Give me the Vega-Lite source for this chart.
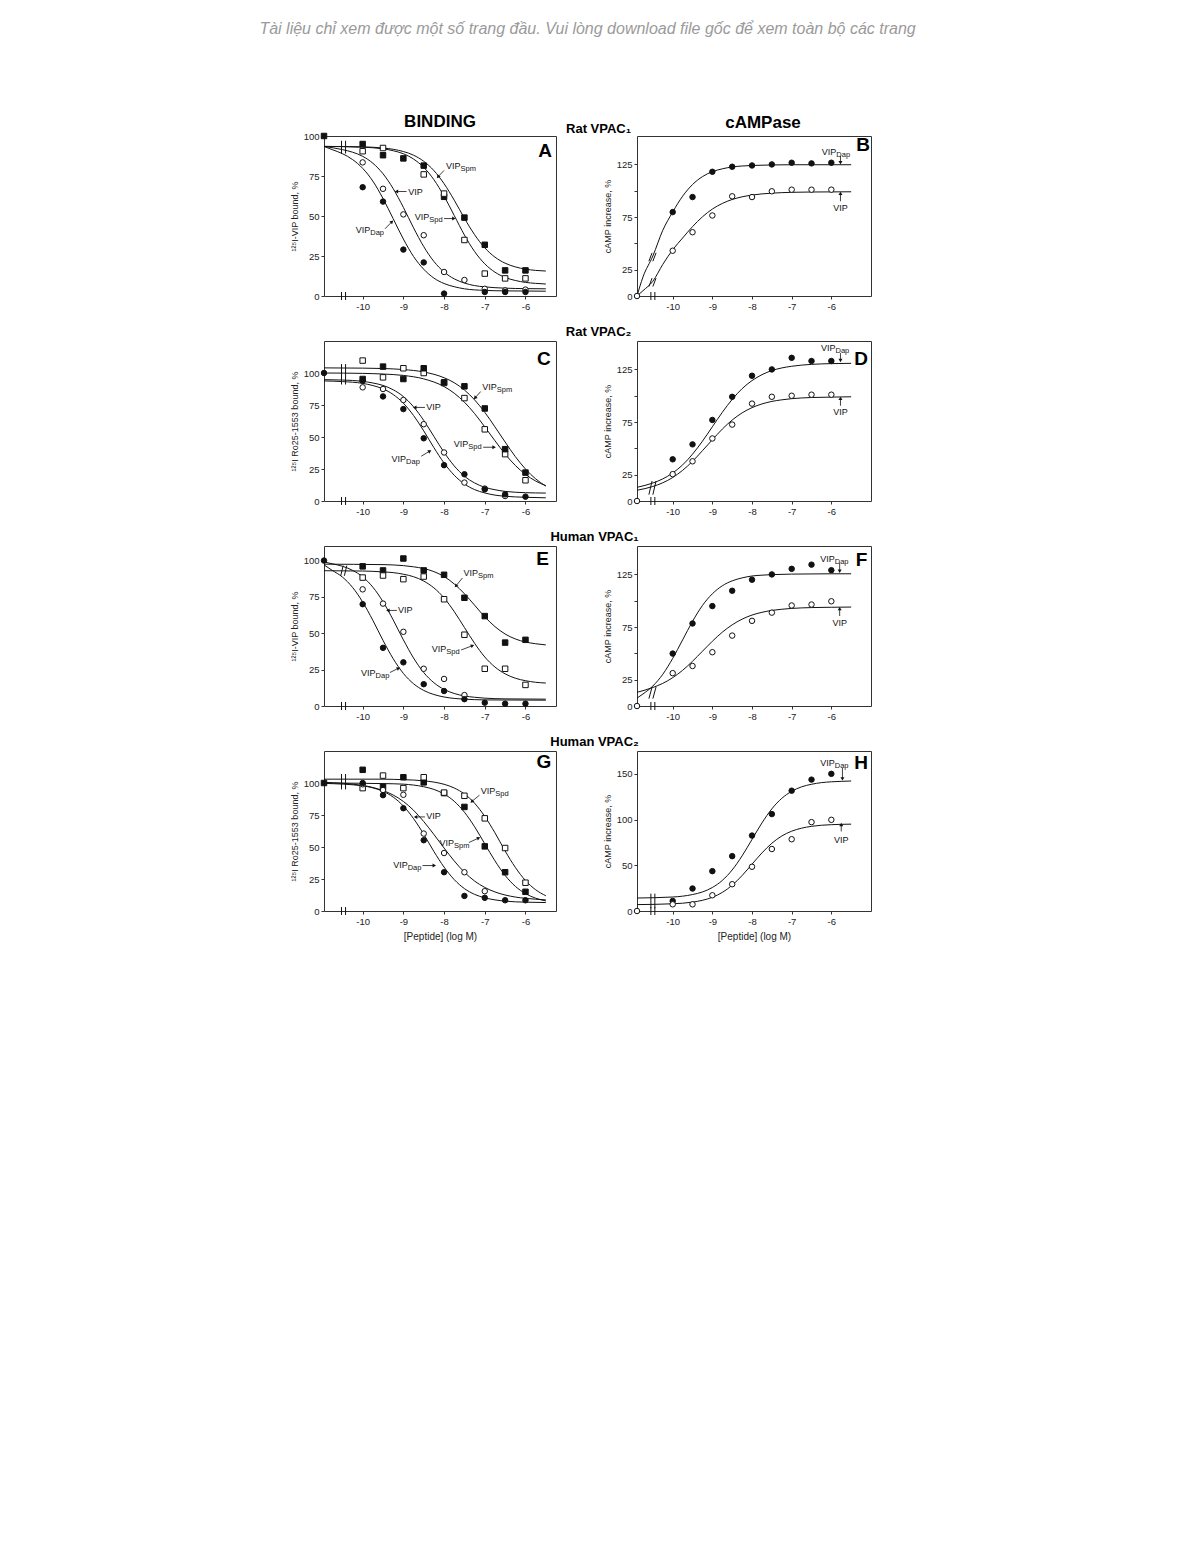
{
"$schema": "https://vega.github.io/schema/vega-lite/v6.json",
"background": "white",
"padding": {"left": 259, "top": 20, "right": 5, "bottom": 5},
"title": {"text": "Tài liệu chỉ xem được một số trang đầu. Vui lòng download file gốc để xem toàn bộ các trang", "font": "Liberation Sans", "fontSize": 16, "fontStyle": "italic", "fontWeight": "normal", "color": "#9a9a9a", "anchor": "middle", "dx": 7, "offset": 76},
"spacing": 14,
"datasets": {
"curves": [
{"p":"A","s":"Spm","x":-10.95,"y":93.5},{"p":"A","s":"Spm","x":-10,"y":93.2},{"p":"A","s":"Spm","x":-9.5,"y":92.5},{"p":"A","s":"Spm","x":-9.25,"y":91.7},{"p":"A","s":"Spm","x":-9,"y":90.3},{"p":"A","s":"Spm","x":-8.75,"y":88},{"p":"A","s":"Spm","x":-8.5,"y":84.2},{"p":"A","s":"Spm","x":-8.25,"y":78.4},{"p":"A","s":"Spm","x":-8,"y":70.2},{"p":"A","s":"Spm","x":-7.75,"y":59.9},{"p":"A","s":"Spm","x":-7.5,"y":48.6},{"p":"A","s":"Spm","x":-7.25,"y":38.3},{"p":"A","s":"Spm","x":-7,"y":30.1},{"p":"A","s":"Spm","x":-6.75,"y":24.3},{"p":"A","s":"Spm","x":-6.5,"y":20.5},{"p":"A","s":"Spm","x":-6.25,"y":18.2},{"p":"A","s":"Spm","x":-6,"y":16.8},{"p":"A","s":"Spm","x":-5.75,"y":16},{"p":"A","s":"Spm","x":-5.5,"y":15.6},
{"p":"A","s":"Spd","x":-10.95,"y":93.5},{"p":"A","s":"Spd","x":-10,"y":93},{"p":"A","s":"Spd","x":-9.5,"y":92},{"p":"A","s":"Spd","x":-9.25,"y":90.8},{"p":"A","s":"Spd","x":-9,"y":88.9},{"p":"A","s":"Spd","x":-8.75,"y":85.6},{"p":"A","s":"Spd","x":-8.5,"y":80.4},{"p":"A","s":"Spd","x":-8.25,"y":72.7},{"p":"A","s":"Spd","x":-8,"y":62.4},{"p":"A","s":"Spd","x":-7.75,"y":50.3},{"p":"A","s":"Spd","x":-7.5,"y":38.1},{"p":"A","s":"Spd","x":-7.25,"y":27.8},{"p":"A","s":"Spd","x":-7,"y":20.1},{"p":"A","s":"Spd","x":-6.75,"y":14.9},{"p":"A","s":"Spd","x":-6.5,"y":11.6},{"p":"A","s":"Spd","x":-6.25,"y":9.7},{"p":"A","s":"Spd","x":-6,"y":8.5},{"p":"A","s":"Spd","x":-5.75,"y":7.9},{"p":"A","s":"Spd","x":-5.5,"y":7.5},
{"p":"A","s":"VIP","x":-10.95,"y":93.5},{"p":"A","s":"VIP","x":-10.5,"y":91.5},{"p":"A","s":"VIP","x":-10.25,"y":89.9},{"p":"A","s":"VIP","x":-10,"y":87.3},{"p":"A","s":"VIP","x":-9.75,"y":83},{"p":"A","s":"VIP","x":-9.5,"y":76.4},{"p":"A","s":"VIP","x":-9.25,"y":67.1},{"p":"A","s":"VIP","x":-9,"y":55.4},{"p":"A","s":"VIP","x":-8.75,"y":42.6},{"p":"A","s":"VIP","x":-8.5,"y":30.9},{"p":"A","s":"VIP","x":-8.25,"y":21.6},{"p":"A","s":"VIP","x":-8,"y":15},{"p":"A","s":"VIP","x":-7.75,"y":10.7},{"p":"A","s":"VIP","x":-7.5,"y":8.1},{"p":"A","s":"VIP","x":-7.25,"y":6.5},{"p":"A","s":"VIP","x":-7,"y":5.7},{"p":"A","s":"VIP","x":-6.5,"y":4.9},{"p":"A","s":"VIP","x":-6,"y":4.6},{"p":"A","s":"VIP","x":-5.5,"y":4.5},
{"p":"A","s":"Dap","x":-10.95,"y":93.5},{"p":"A","s":"Dap","x":-10.75,"y":91.5},{"p":"A","s":"Dap","x":-10.5,"y":89},{"p":"A","s":"Dap","x":-10.25,"y":85.3},{"p":"A","s":"Dap","x":-10,"y":79.8},{"p":"A","s":"Dap","x":-9.75,"y":71.8},{"p":"A","s":"Dap","x":-9.5,"y":60.9},{"p":"A","s":"Dap","x":-9.25,"y":48.3},{"p":"A","s":"Dap","x":-9,"y":35.6},{"p":"A","s":"Dap","x":-8.75,"y":24.7},{"p":"A","s":"Dap","x":-8.5,"y":16.7},{"p":"A","s":"Dap","x":-8.25,"y":11.2},{"p":"A","s":"Dap","x":-8,"y":7.8},{"p":"A","s":"Dap","x":-7.75,"y":5.8},{"p":"A","s":"Dap","x":-7.5,"y":4.5},{"p":"A","s":"Dap","x":-7,"y":3.5},{"p":"A","s":"Dap","x":-6.5,"y":3.2},{"p":"A","s":"Dap","x":-5.5,"y":3},
{"p":"B","s":"Dap","x":-10.9,"y":0},{"p":"B","s":"Dap","x":-10.75,"y":18},{"p":"B","s":"Dap","x":-10.5,"y":38},{"p":"B","s":"Dap","x":-10.25,"y":62.4},{"p":"B","s":"Dap","x":-10,"y":79.8},{"p":"B","s":"Dap","x":-9.75,"y":94.8},{"p":"B","s":"Dap","x":-9.5,"y":105.9},{"p":"B","s":"Dap","x":-9.25,"y":113.4},{"p":"B","s":"Dap","x":-9,"y":118.1},{"p":"B","s":"Dap","x":-8.75,"y":120.8},{"p":"B","s":"Dap","x":-8.5,"y":122.6},{"p":"B","s":"Dap","x":-8.25,"y":123.5},{"p":"B","s":"Dap","x":-8,"y":124},{"p":"B","s":"Dap","x":-7.5,"y":124.5},{"p":"B","s":"Dap","x":-7,"y":124.7},{"p":"B","s":"Dap","x":-5.5,"y":124.7},
{"p":"B","s":"VIP","x":-10.9,"y":0},{"p":"B","s":"VIP","x":-10.75,"y":5},{"p":"B","s":"VIP","x":-10.5,"y":14},{"p":"B","s":"VIP","x":-10.25,"y":30},{"p":"B","s":"VIP","x":-10,"y":43.9},{"p":"B","s":"VIP","x":-9.75,"y":55.1},{"p":"B","s":"VIP","x":-9.5,"y":65.9},{"p":"B","s":"VIP","x":-9.25,"y":75.2},{"p":"B","s":"VIP","x":-9,"y":82.6},{"p":"B","s":"VIP","x":-8.75,"y":87.9},{"p":"B","s":"VIP","x":-8.5,"y":91.7},{"p":"B","s":"VIP","x":-8.25,"y":94.2},{"p":"B","s":"VIP","x":-8,"y":95.9},{"p":"B","s":"VIP","x":-7.75,"y":97},{"p":"B","s":"VIP","x":-7.5,"y":97.7},{"p":"B","s":"VIP","x":-7,"y":98.5},{"p":"B","s":"VIP","x":-6.5,"y":98.8},{"p":"B","s":"VIP","x":-6,"y":98.9},{"p":"B","s":"VIP","x":-5.5,"y":99},
{"p":"C","s":"Spm","x":-10.95,"y":104},{"p":"C","s":"Spm","x":-10,"y":103.8},{"p":"C","s":"Spm","x":-9.5,"y":103.5},{"p":"C","s":"Spm","x":-9,"y":102.7},{"p":"C","s":"Spm","x":-8.5,"y":100.8},{"p":"C","s":"Spm","x":-8,"y":96.3},{"p":"C","s":"Spm","x":-7.75,"y":92.4},{"p":"C","s":"Spm","x":-7.5,"y":86.7},{"p":"C","s":"Spm","x":-7.25,"y":79},{"p":"C","s":"Spm","x":-7,"y":69.3},{"p":"C","s":"Spm","x":-6.75,"y":57.9},{"p":"C","s":"Spm","x":-6.5,"y":46.1},{"p":"C","s":"Spm","x":-6.25,"y":34.7},{"p":"C","s":"Spm","x":-6,"y":25},{"p":"C","s":"Spm","x":-5.75,"y":17.3},{"p":"C","s":"Spm","x":-5.5,"y":11.6},
{"p":"C","s":"Spd","x":-10.95,"y":100},{"p":"C","s":"Spd","x":-10,"y":99.7},{"p":"C","s":"Spd","x":-9.5,"y":99.2},{"p":"C","s":"Spd","x":-9,"y":98.1},{"p":"C","s":"Spd","x":-8.5,"y":95.4},{"p":"C","s":"Spd","x":-8,"y":89.4},{"p":"C","s":"Spd","x":-7.75,"y":84.2},{"p":"C","s":"Spd","x":-7.5,"y":77.2},{"p":"C","s":"Spd","x":-7.25,"y":68.3},{"p":"C","s":"Spd","x":-7,"y":57.9},{"p":"C","s":"Spd","x":-6.75,"y":47.1},{"p":"C","s":"Spd","x":-6.5,"y":36.7},{"p":"C","s":"Spd","x":-6.25,"y":27.8},{"p":"C","s":"Spd","x":-6,"y":20.8},{"p":"C","s":"Spd","x":-5.75,"y":15.6},{"p":"C","s":"Spd","x":-5.5,"y":12},
{"p":"C","s":"VIP","x":-10.95,"y":94.8},{"p":"C","s":"VIP","x":-10.5,"y":94.5},{"p":"C","s":"VIP","x":-10,"y":93.5},{"p":"C","s":"VIP","x":-9.75,"y":92.2},{"p":"C","s":"VIP","x":-9.5,"y":90.3},{"p":"C","s":"VIP","x":-9.25,"y":86.9},{"p":"C","s":"VIP","x":-9,"y":81.6},{"p":"C","s":"VIP","x":-8.75,"y":73.6},{"p":"C","s":"VIP","x":-8.5,"y":63},{"p":"C","s":"VIP","x":-8.25,"y":50.5},{"p":"C","s":"VIP","x":-8,"y":38},{"p":"C","s":"VIP","x":-7.75,"y":27.4},{"p":"C","s":"VIP","x":-7.5,"y":19.4},{"p":"C","s":"VIP","x":-7.25,"y":14.1},{"p":"C","s":"VIP","x":-7,"y":10.7},{"p":"C","s":"VIP","x":-6.75,"y":8.8},{"p":"C","s":"VIP","x":-6.5,"y":7.5},{"p":"C","s":"VIP","x":-6,"y":6.5},{"p":"C","s":"VIP","x":-5.5,"y":6.2},
{"p":"C","s":"Dap","x":-10.95,"y":93.8},{"p":"C","s":"Dap","x":-10.5,"y":93.3},{"p":"C","s":"Dap","x":-10,"y":91.9},{"p":"C","s":"Dap","x":-9.75,"y":90.2},{"p":"C","s":"Dap","x":-9.5,"y":87.6},{"p":"C","s":"Dap","x":-9.25,"y":83.2},{"p":"C","s":"Dap","x":-9,"y":76.4},{"p":"C","s":"Dap","x":-8.75,"y":66.8},{"p":"C","s":"Dap","x":-8.5,"y":54.8},{"p":"C","s":"Dap","x":-8.25,"y":41.7},{"p":"C","s":"Dap","x":-8,"y":29.7},{"p":"C","s":"Dap","x":-7.75,"y":20.1},{"p":"C","s":"Dap","x":-7.5,"y":13.3},{"p":"C","s":"Dap","x":-7.25,"y":8.9},{"p":"C","s":"Dap","x":-7,"y":6.3},{"p":"C","s":"Dap","x":-6.75,"y":4.6},{"p":"C","s":"Dap","x":-6.5,"y":3.7},{"p":"C","s":"Dap","x":-6,"y":2.9},{"p":"C","s":"Dap","x":-5.5,"y":2.5},
{"p":"D","s":"Dap","x":-10.9,"y":13},{"p":"D","s":"Dap","x":-10.5,"y":17.1},{"p":"D","s":"Dap","x":-10.25,"y":21},{"p":"D","s":"Dap","x":-10,"y":26.6},{"p":"D","s":"Dap","x":-9.75,"y":34.3},{"p":"D","s":"Dap","x":-9.5,"y":44.5},{"p":"D","s":"Dap","x":-9.25,"y":56.8},{"p":"D","s":"Dap","x":-9,"y":70.5},{"p":"D","s":"Dap","x":-8.75,"y":84.2},{"p":"D","s":"Dap","x":-8.5,"y":96.5},{"p":"D","s":"Dap","x":-8.25,"y":106.7},{"p":"D","s":"Dap","x":-8,"y":114.4},{"p":"D","s":"Dap","x":-7.75,"y":120},{"p":"D","s":"Dap","x":-7.5,"y":123.9},{"p":"D","s":"Dap","x":-7.25,"y":126.4},{"p":"D","s":"Dap","x":-7,"y":128},{"p":"D","s":"Dap","x":-6.5,"y":129.8},{"p":"D","s":"Dap","x":-6,"y":130.5},{"p":"D","s":"Dap","x":-5.5,"y":130.8},
{"p":"D","s":"VIP","x":-10.9,"y":10.2},{"p":"D","s":"VIP","x":-10.5,"y":13.8},{"p":"D","s":"VIP","x":-10.25,"y":17.3},{"p":"D","s":"VIP","x":-10,"y":22.3},{"p":"D","s":"VIP","x":-9.75,"y":29.1},{"p":"D","s":"VIP","x":-9.5,"y":37.7},{"p":"D","s":"VIP","x":-9.25,"y":47.8},{"p":"D","s":"VIP","x":-9,"y":58.2},{"p":"D","s":"VIP","x":-8.75,"y":68.3},{"p":"D","s":"VIP","x":-8.5,"y":76.9},{"p":"D","s":"VIP","x":-8.25,"y":83.7},{"p":"D","s":"VIP","x":-8,"y":88.7},{"p":"D","s":"VIP","x":-7.75,"y":92.2},{"p":"D","s":"VIP","x":-7.5,"y":94.6},{"p":"D","s":"VIP","x":-7.25,"y":96.1},{"p":"D","s":"VIP","x":-7,"y":97.2},{"p":"D","s":"VIP","x":-6.5,"y":98.3},{"p":"D","s":"VIP","x":-6,"y":98.7},{"p":"D","s":"VIP","x":-5.5,"y":99},
{"p":"E","s":"Spm","x":-10.95,"y":97.5},{"p":"E","s":"Spm","x":-9.5,"y":97.2},{"p":"E","s":"Spm","x":-9,"y":96.5},{"p":"E","s":"Spm","x":-8.75,"y":95.7},{"p":"E","s":"Spm","x":-8.5,"y":94.5},{"p":"E","s":"Spm","x":-8.25,"y":92.4},{"p":"E","s":"Spm","x":-8,"y":89},{"p":"E","s":"Spm","x":-7.75,"y":83.9},{"p":"E","s":"Spm","x":-7.5,"y":77.2},{"p":"E","s":"Spm","x":-7.25,"y":69.3},{"p":"E","s":"Spm","x":-7,"y":61.3},{"p":"E","s":"Spm","x":-6.75,"y":54.6},{"p":"E","s":"Spm","x":-6.5,"y":49.5},{"p":"E","s":"Spm","x":-6.25,"y":46.1},{"p":"E","s":"Spm","x":-6,"y":44},{"p":"E","s":"Spm","x":-5.75,"y":42.8},{"p":"E","s":"Spm","x":-5.5,"y":42},
{"p":"E","s":"Spd","x":-10.95,"y":93},{"p":"E","s":"Spd","x":-10,"y":92.8},{"p":"E","s":"Spd","x":-9.5,"y":92.2},{"p":"E","s":"Spd","x":-9.25,"y":91.7},{"p":"E","s":"Spd","x":-9,"y":90.6},{"p":"E","s":"Spd","x":-8.75,"y":88.9},{"p":"E","s":"Spd","x":-8.5,"y":85.9},{"p":"E","s":"Spd","x":-8.25,"y":81.2},{"p":"E","s":"Spd","x":-8,"y":74.3},{"p":"E","s":"Spd","x":-7.75,"y":64.9},{"p":"E","s":"Spd","x":-7.5,"y":54},{"p":"E","s":"Spd","x":-7.25,"y":43.1},{"p":"E","s":"Spd","x":-7,"y":33.7},{"p":"E","s":"Spd","x":-6.75,"y":26.8},{"p":"E","s":"Spd","x":-6.5,"y":22.1},{"p":"E","s":"Spd","x":-6.25,"y":19.1},{"p":"E","s":"Spd","x":-6,"y":17.4},{"p":"E","s":"Spd","x":-5.75,"y":16.3},{"p":"E","s":"Spd","x":-5.5,"y":15.8},
{"p":"E","s":"VIP","x":-10.95,"y":99},{"p":"E","s":"VIP","x":-10.75,"y":97.8},{"p":"E","s":"VIP","x":-10.5,"y":96.1},{"p":"E","s":"VIP","x":-10.25,"y":93.3},{"p":"E","s":"VIP","x":-10,"y":88.8},{"p":"E","s":"VIP","x":-9.75,"y":81.7},{"p":"E","s":"VIP","x":-9.5,"y":71.7},{"p":"E","s":"VIP","x":-9.25,"y":59.2},{"p":"E","s":"VIP","x":-9,"y":45.5},{"p":"E","s":"VIP","x":-8.75,"y":33},{"p":"E","s":"VIP","x":-8.5,"y":23},{"p":"E","s":"VIP","x":-8.25,"y":16},{"p":"E","s":"VIP","x":-8,"y":11.4},{"p":"E","s":"VIP","x":-7.75,"y":8.6},{"p":"E","s":"VIP","x":-7.5,"y":6.9},{"p":"E","s":"VIP","x":-7.25,"y":6},{"p":"E","s":"VIP","x":-7,"y":5.4},{"p":"E","s":"VIP","x":-6.5,"y":4.9},{"p":"E","s":"VIP","x":-5.5,"y":4.7},
{"p":"E","s":"Dap","x":-10.95,"y":97},{"p":"E","s":"Dap","x":-10.75,"y":93.3},{"p":"E","s":"Dap","x":-10.5,"y":88.7},{"p":"E","s":"Dap","x":-10.25,"y":81.6},{"p":"E","s":"Dap","x":-10,"y":71.5},{"p":"E","s":"Dap","x":-9.75,"y":58.9},{"p":"E","s":"Dap","x":-9.5,"y":45.1},{"p":"E","s":"Dap","x":-9.25,"y":32.5},{"p":"E","s":"Dap","x":-9,"y":22.4},{"p":"E","s":"Dap","x":-8.75,"y":15.3},{"p":"E","s":"Dap","x":-8.5,"y":10.7},{"p":"E","s":"Dap","x":-8.25,"y":7.9},{"p":"E","s":"Dap","x":-8,"y":6.2},{"p":"E","s":"Dap","x":-7.75,"y":5.2},{"p":"E","s":"Dap","x":-7.5,"y":4.7},{"p":"E","s":"Dap","x":-7,"y":4.2},{"p":"E","s":"Dap","x":-5.5,"y":4},
{"p":"F","s":"Dap","x":-10.9,"y":7.5},{"p":"F","s":"Dap","x":-10.75,"y":11.4},{"p":"F","s":"Dap","x":-10.5,"y":19},{"p":"F","s":"Dap","x":-10.25,"y":30.1},{"p":"F","s":"Dap","x":-10,"y":45.2},{"p":"F","s":"Dap","x":-9.75,"y":62.8},{"p":"F","s":"Dap","x":-9.5,"y":80.4},{"p":"F","s":"Dap","x":-9.25,"y":95.5},{"p":"F","s":"Dap","x":-9,"y":106.6},{"p":"F","s":"Dap","x":-8.75,"y":114.2},{"p":"F","s":"Dap","x":-8.5,"y":118.9},{"p":"F","s":"Dap","x":-8.25,"y":121.7},{"p":"F","s":"Dap","x":-8,"y":123.5},{"p":"F","s":"Dap","x":-7.75,"y":124.3},{"p":"F","s":"Dap","x":-7.5,"y":124.8},{"p":"F","s":"Dap","x":-7,"y":125.3},{"p":"F","s":"Dap","x":-6,"y":125.6},{"p":"F","s":"Dap","x":-5.5,"y":125.6},
{"p":"F","s":"VIP","x":-10.9,"y":13},{"p":"F","s":"VIP","x":-10.5,"y":17.6},{"p":"F","s":"VIP","x":-10.25,"y":21.5},{"p":"F","s":"VIP","x":-10,"y":26.9},{"p":"F","s":"VIP","x":-9.75,"y":33.9},{"p":"F","s":"VIP","x":-9.5,"y":42.5},{"p":"F","s":"VIP","x":-9.25,"y":52},{"p":"F","s":"VIP","x":-9,"y":61.5},{"p":"F","s":"VIP","x":-8.75,"y":70.1},{"p":"F","s":"VIP","x":-8.5,"y":77.1},{"p":"F","s":"VIP","x":-8.25,"y":82.5},{"p":"F","s":"VIP","x":-8,"y":86.4},{"p":"F","s":"VIP","x":-7.75,"y":89},{"p":"F","s":"VIP","x":-7.5,"y":90.8},{"p":"F","s":"VIP","x":-7.25,"y":91.9},{"p":"F","s":"VIP","x":-7,"y":92.7},{"p":"F","s":"VIP","x":-6.5,"y":93.5},{"p":"F","s":"VIP","x":-6,"y":93.8},{"p":"F","s":"VIP","x":-5.5,"y":94},
{"p":"G","s":"Spd","x":-10.95,"y":103},{"p":"G","s":"Spd","x":-9.5,"y":103},{"p":"G","s":"Spd","x":-9,"y":102.6},{"p":"G","s":"Spd","x":-8.75,"y":102.3},{"p":"G","s":"Spd","x":-8.5,"y":101.7},{"p":"G","s":"Spd","x":-8.25,"y":100.7},{"p":"G","s":"Spd","x":-8,"y":99},{"p":"G","s":"Spd","x":-7.75,"y":96.1},{"p":"G","s":"Spd","x":-7.5,"y":91.4},{"p":"G","s":"Spd","x":-7.25,"y":84.2},{"p":"G","s":"Spd","x":-7,"y":73.9},{"p":"G","s":"Spd","x":-6.75,"y":61.1},{"p":"G","s":"Spd","x":-6.5,"y":46.9},{"p":"G","s":"Spd","x":-6.25,"y":34.1},{"p":"G","s":"Spd","x":-6,"y":23.8},{"p":"G","s":"Spd","x":-5.75,"y":16.6},{"p":"G","s":"Spd","x":-5.5,"y":11.9},
{"p":"G","s":"Spm","x":-10.95,"y":100},{"p":"G","s":"Spm","x":-9.25,"y":99.4},{"p":"G","s":"Spm","x":-9,"y":99.1},{"p":"G","s":"Spm","x":-8.75,"y":98.4},{"p":"G","s":"Spm","x":-8.5,"y":97.1},{"p":"G","s":"Spm","x":-8.25,"y":95},{"p":"G","s":"Spm","x":-8,"y":91.4},{"p":"G","s":"Spm","x":-7.75,"y":85.7},{"p":"G","s":"Spm","x":-7.5,"y":77.2},{"p":"G","s":"Spm","x":-7.25,"y":65.8},{"p":"G","s":"Spm","x":-7,"y":52.5},{"p":"G","s":"Spm","x":-6.75,"y":39.2},{"p":"G","s":"Spm","x":-6.5,"y":27.8},{"p":"G","s":"Spm","x":-6.25,"y":19.3},{"p":"G","s":"Spm","x":-6,"y":13.6},{"p":"G","s":"Spm","x":-5.75,"y":10},{"p":"G","s":"Spm","x":-5.5,"y":7.9},
{"p":"G","s":"VIP","x":-10.95,"y":100.5},{"p":"G","s":"VIP","x":-10,"y":98.1},{"p":"G","s":"VIP","x":-9.75,"y":96.5},{"p":"G","s":"VIP","x":-9.5,"y":94.1},{"p":"G","s":"VIP","x":-9.25,"y":90.6},{"p":"G","s":"VIP","x":-9,"y":85.6},{"p":"G","s":"VIP","x":-8.75,"y":78.7},{"p":"G","s":"VIP","x":-8.5,"y":69.9},{"p":"G","s":"VIP","x":-8.25,"y":59.8},{"p":"G","s":"VIP","x":-8,"y":49.2},{"p":"G","s":"VIP","x":-7.75,"y":39.1},{"p":"G","s":"VIP","x":-7.5,"y":30.3},{"p":"G","s":"VIP","x":-7.25,"y":23.4},{"p":"G","s":"VIP","x":-7,"y":18.4},{"p":"G","s":"VIP","x":-6.75,"y":14.9},{"p":"G","s":"VIP","x":-6.5,"y":12.5},{"p":"G","s":"VIP","x":-6.25,"y":10.9},{"p":"G","s":"VIP","x":-6,"y":9.9},{"p":"G","s":"VIP","x":-5.75,"y":9.2},{"p":"G","s":"VIP","x":-5.5,"y":8.7},
{"p":"G","s":"Dap","x":-10.95,"y":99.7},{"p":"G","s":"Dap","x":-10,"y":97.8},{"p":"G","s":"Dap","x":-9.75,"y":96.2},{"p":"G","s":"Dap","x":-9.5,"y":93.5},{"p":"G","s":"Dap","x":-9.25,"y":89},{"p":"G","s":"Dap","x":-9,"y":82},{"p":"G","s":"Dap","x":-8.75,"y":72.2},{"p":"G","s":"Dap","x":-8.5,"y":60},{"p":"G","s":"Dap","x":-8.25,"y":46.5},{"p":"G","s":"Dap","x":-8,"y":34.3},{"p":"G","s":"Dap","x":-7.75,"y":24.5},{"p":"G","s":"Dap","x":-7.5,"y":17.5},{"p":"G","s":"Dap","x":-7.25,"y":13},{"p":"G","s":"Dap","x":-7,"y":10.3},{"p":"G","s":"Dap","x":-6.75,"y":8.7},{"p":"G","s":"Dap","x":-6.5,"y":7.7},{"p":"G","s":"Dap","x":-6,"y":6.9},{"p":"G","s":"Dap","x":-5.5,"y":6.6},
{"p":"H","s":"Dap","x":-10.9,"y":14.2},{"p":"H","s":"Dap","x":-10,"y":15.3},{"p":"H","s":"Dap","x":-9.5,"y":18},{"p":"H","s":"Dap","x":-9.25,"y":20.8},{"p":"H","s":"Dap","x":-9,"y":25.7},{"p":"H","s":"Dap","x":-8.75,"y":33.4},{"p":"H","s":"Dap","x":-8.5,"y":44.9},{"p":"H","s":"Dap","x":-8.25,"y":60.3},{"p":"H","s":"Dap","x":-8,"y":78.3},{"p":"H","s":"Dap","x":-7.75,"y":96.3},{"p":"H","s":"Dap","x":-7.5,"y":111.7},{"p":"H","s":"Dap","x":-7.25,"y":123.2},{"p":"H","s":"Dap","x":-7,"y":130.9},{"p":"H","s":"Dap","x":-6.75,"y":135.8},{"p":"H","s":"Dap","x":-6.5,"y":138.6},{"p":"H","s":"Dap","x":-6.25,"y":140.4},{"p":"H","s":"Dap","x":-6,"y":141.3},{"p":"H","s":"Dap","x":-5.75,"y":141.8},{"p":"H","s":"Dap","x":-5.5,"y":142.2},
{"p":"H","s":"VIP","x":-10.9,"y":7},{"p":"H","s":"VIP","x":-10,"y":7.9},{"p":"H","s":"VIP","x":-9.5,"y":9.7},{"p":"H","s":"VIP","x":-9.25,"y":11.7},{"p":"H","s":"VIP","x":-9,"y":15},{"p":"H","s":"VIP","x":-8.75,"y":20.3},{"p":"H","s":"VIP","x":-8.5,"y":28.2},{"p":"H","s":"VIP","x":-8.25,"y":38.8},{"p":"H","s":"VIP","x":-8,"y":51.2},{"p":"H","s":"VIP","x":-7.75,"y":63.5},{"p":"H","s":"VIP","x":-7.5,"y":74.1},{"p":"H","s":"VIP","x":-7.25,"y":82},{"p":"H","s":"VIP","x":-7,"y":87.3},{"p":"H","s":"VIP","x":-6.75,"y":90.6},{"p":"H","s":"VIP","x":-6.5,"y":92.6},{"p":"H","s":"VIP","x":-6.25,"y":93.8},{"p":"H","s":"VIP","x":-6,"y":94.4},{"p":"H","s":"VIP","x":-5.75,"y":94.8},{"p":"H","s":"VIP","x":-5.5,"y":95}
],
"points": [
{"p":"A","s":"Spm","x":-10.95,"y":100},{"p":"A","s":"Spm","x":-10,"y":95},{"p":"A","s":"Spm","x":-9.5,"y":88},{"p":"A","s":"Spm","x":-9,"y":86},{"p":"A","s":"Spm","x":-8.5,"y":81.5},{"p":"A","s":"Spm","x":-8,"y":62},{"p":"A","s":"Spm","x":-7.5,"y":49},{"p":"A","s":"Spm","x":-7,"y":32},{"p":"A","s":"Spm","x":-6.5,"y":16},{"p":"A","s":"Spm","x":-6,"y":16},
{"p":"A","s":"Spd","x":-10,"y":90.5},{"p":"A","s":"Spd","x":-9.5,"y":92.5},{"p":"A","s":"Spd","x":-8.5,"y":76},{"p":"A","s":"Spd","x":-8,"y":64},{"p":"A","s":"Spd","x":-7.5,"y":35},{"p":"A","s":"Spd","x":-7,"y":14},{"p":"A","s":"Spd","x":-6.5,"y":11},{"p":"A","s":"Spd","x":-6,"y":11},
{"p":"A","s":"VIP","x":-10,"y":83.5},{"p":"A","s":"VIP","x":-9.5,"y":67},{"p":"A","s":"VIP","x":-9,"y":51},{"p":"A","s":"VIP","x":-8.5,"y":38},{"p":"A","s":"VIP","x":-8,"y":15},{"p":"A","s":"VIP","x":-7.5,"y":10},{"p":"A","s":"VIP","x":-7,"y":4.5},{"p":"A","s":"VIP","x":-6.5,"y":3.5},{"p":"A","s":"VIP","x":-6,"y":4},
{"p":"A","s":"Dap","x":-10,"y":68},{"p":"A","s":"Dap","x":-9.5,"y":59},{"p":"A","s":"Dap","x":-9,"y":29},{"p":"A","s":"Dap","x":-8.5,"y":21},{"p":"A","s":"Dap","x":-8,"y":1.5},{"p":"A","s":"Dap","x":-7,"y":2.5},{"p":"A","s":"Dap","x":-6.5,"y":2.5},{"p":"A","s":"Dap","x":-6,"y":2.5},
{"p":"B","s":"VIP","x":-10.9,"y":0},{"p":"B","s":"VIP","x":-10,"y":43},{"p":"B","s":"VIP","x":-9.5,"y":60.6},{"p":"B","s":"VIP","x":-9,"y":76.5},{"p":"B","s":"VIP","x":-8.5,"y":94.7},{"p":"B","s":"VIP","x":-8,"y":94},{"p":"B","s":"VIP","x":-7.5,"y":99.5},{"p":"B","s":"VIP","x":-7,"y":101},{"p":"B","s":"VIP","x":-6.5,"y":101},{"p":"B","s":"VIP","x":-6,"y":101},
{"p":"B","s":"Dap","x":-10,"y":79.7},{"p":"B","s":"Dap","x":-9.5,"y":94},{"p":"B","s":"Dap","x":-9,"y":118},{"p":"B","s":"Dap","x":-8.5,"y":122.8},{"p":"B","s":"Dap","x":-8,"y":124},{"p":"B","s":"Dap","x":-7.5,"y":125},{"p":"B","s":"Dap","x":-7,"y":126.6},{"p":"B","s":"Dap","x":-6.5,"y":126},{"p":"B","s":"Dap","x":-6,"y":126.6},
{"p":"C","s":"Spd","x":-10,"y":109.7},{"p":"C","s":"Spd","x":-9.5,"y":96.6},{"p":"C","s":"Spd","x":-9,"y":103.7},{"p":"C","s":"Spd","x":-8.5,"y":100},{"p":"C","s":"Spd","x":-8,"y":92.2},{"p":"C","s":"Spd","x":-7.5,"y":80.4},{"p":"C","s":"Spd","x":-7,"y":56},{"p":"C","s":"Spd","x":-6.5,"y":36.6},{"p":"C","s":"Spd","x":-6,"y":16.2},
{"p":"C","s":"Spm","x":-10,"y":95.3},{"p":"C","s":"Spm","x":-9.5,"y":105},{"p":"C","s":"Spm","x":-9,"y":95.3},{"p":"C","s":"Spm","x":-8.5,"y":103.7},{"p":"C","s":"Spm","x":-8,"y":92.7},{"p":"C","s":"Spm","x":-7.5,"y":89.6},{"p":"C","s":"Spm","x":-7,"y":72.3},{"p":"C","s":"Spm","x":-6.5,"y":40.5},{"p":"C","s":"Spm","x":-6,"y":22.2},
{"p":"C","s":"VIP","x":-10,"y":88.8},{"p":"C","s":"VIP","x":-9.5,"y":87.5},{"p":"C","s":"VIP","x":-9,"y":78.9},{"p":"C","s":"VIP","x":-8.5,"y":60},{"p":"C","s":"VIP","x":-8,"y":37.9},{"p":"C","s":"VIP","x":-7.5,"y":14.4},{"p":"C","s":"VIP","x":-7,"y":9.7},{"p":"C","s":"VIP","x":-6.5,"y":3.9},
{"p":"C","s":"Dap","x":-10.95,"y":100},{"p":"C","s":"Dap","x":-10,"y":94},{"p":"C","s":"Dap","x":-9.5,"y":81.7},{"p":"C","s":"Dap","x":-9,"y":71.8},{"p":"C","s":"Dap","x":-8.5,"y":49},{"p":"C","s":"Dap","x":-8,"y":28},{"p":"C","s":"Dap","x":-7.5,"y":20.9},{"p":"C","s":"Dap","x":-7,"y":9.1},{"p":"C","s":"Dap","x":-6.5,"y":5.2},{"p":"C","s":"Dap","x":-6,"y":3.4},
{"p":"D","s":"Dap","x":-10,"y":39.6},{"p":"D","s":"Dap","x":-9.5,"y":53.8},{"p":"D","s":"Dap","x":-9,"y":77},{"p":"D","s":"Dap","x":-8.5,"y":99},{"p":"D","s":"Dap","x":-8,"y":119},{"p":"D","s":"Dap","x":-7.5,"y":125},{"p":"D","s":"Dap","x":-7,"y":136},{"p":"D","s":"Dap","x":-6.5,"y":133},{"p":"D","s":"Dap","x":-6,"y":133},
{"p":"D","s":"VIP","x":-10.9,"y":0},{"p":"D","s":"VIP","x":-10,"y":25.5},{"p":"D","s":"VIP","x":-9.5,"y":37.7},{"p":"D","s":"VIP","x":-9,"y":59.4},{"p":"D","s":"VIP","x":-8.5,"y":72.6},{"p":"D","s":"VIP","x":-8,"y":92.5},{"p":"D","s":"VIP","x":-7.5,"y":99},{"p":"D","s":"VIP","x":-7,"y":100},{"p":"D","s":"VIP","x":-6.5,"y":101},{"p":"D","s":"VIP","x":-6,"y":101},
{"p":"E","s":"Spm","x":-10,"y":96},{"p":"E","s":"Spm","x":-9.5,"y":93.2},{"p":"E","s":"Spm","x":-9,"y":101.4},{"p":"E","s":"Spm","x":-8.5,"y":93.2},{"p":"E","s":"Spm","x":-8,"y":90.2},{"p":"E","s":"Spm","x":-7.5,"y":74.4},{"p":"E","s":"Spm","x":-7,"y":61.8},{"p":"E","s":"Spm","x":-6.5,"y":43.6},{"p":"E","s":"Spm","x":-6,"y":45.5},
{"p":"E","s":"Spd","x":-10,"y":88.3},{"p":"E","s":"Spd","x":-9.5,"y":89.7},{"p":"E","s":"Spd","x":-9,"y":87.2},{"p":"E","s":"Spd","x":-8.5,"y":89},{"p":"E","s":"Spd","x":-8,"y":73.4},{"p":"E","s":"Spd","x":-7.5,"y":49},{"p":"E","s":"Spd","x":-7,"y":25.6},{"p":"E","s":"Spd","x":-6.5,"y":25.6},{"p":"E","s":"Spd","x":-6,"y":14.5},
{"p":"E","s":"VIP","x":-10,"y":80.2},{"p":"E","s":"VIP","x":-9.5,"y":70.4},{"p":"E","s":"VIP","x":-9,"y":51},{"p":"E","s":"VIP","x":-8.5,"y":25.6},{"p":"E","s":"VIP","x":-8,"y":18.6},{"p":"E","s":"VIP","x":-7.5,"y":7.5},
{"p":"E","s":"Dap","x":-10.95,"y":100},{"p":"E","s":"Dap","x":-10,"y":70},{"p":"E","s":"Dap","x":-9.5,"y":40},{"p":"E","s":"Dap","x":-9,"y":30},{"p":"E","s":"Dap","x":-8.5,"y":15},{"p":"E","s":"Dap","x":-8,"y":10.3},{"p":"E","s":"Dap","x":-7.5,"y":4.7},{"p":"E","s":"Dap","x":-7,"y":2.3},{"p":"E","s":"Dap","x":-6.5,"y":1.6},{"p":"E","s":"Dap","x":-6,"y":1.6},
{"p":"F","s":"Dap","x":-10,"y":49.8},{"p":"F","s":"Dap","x":-9.5,"y":78.4},{"p":"F","s":"Dap","x":-9,"y":94.9},{"p":"F","s":"Dap","x":-8.5,"y":109.5},{"p":"F","s":"Dap","x":-8,"y":120},{"p":"F","s":"Dap","x":-7.5,"y":125},{"p":"F","s":"Dap","x":-7,"y":130.3},{"p":"F","s":"Dap","x":-6.5,"y":134.3},{"p":"F","s":"Dap","x":-6,"y":129},
{"p":"F","s":"VIP","x":-10.9,"y":0},{"p":"F","s":"VIP","x":-10,"y":31.2},{"p":"F","s":"VIP","x":-9.5,"y":38},{"p":"F","s":"VIP","x":-9,"y":51.1},{"p":"F","s":"VIP","x":-8.5,"y":66.9},{"p":"F","s":"VIP","x":-8,"y":80.9},{"p":"F","s":"VIP","x":-7.5,"y":88.7},{"p":"F","s":"VIP","x":-7,"y":95.5},{"p":"F","s":"VIP","x":-6.5,"y":96.4},{"p":"F","s":"VIP","x":-6,"y":99.5},
{"p":"G","s":"Spm","x":-10.95,"y":100},{"p":"G","s":"Spm","x":-10,"y":110.3},{"p":"G","s":"Spm","x":-9.5,"y":97.1},{"p":"G","s":"Spm","x":-9,"y":104.5},{"p":"G","s":"Spm","x":-8.5,"y":100.5},{"p":"G","s":"Spm","x":-8,"y":92.1},{"p":"G","s":"Spm","x":-7.5,"y":81.3},{"p":"G","s":"Spm","x":-7,"y":50.5},{"p":"G","s":"Spm","x":-6.5,"y":30.3},{"p":"G","s":"Spm","x":-6,"y":15},
{"p":"G","s":"Spd","x":-10,"y":96},{"p":"G","s":"Spd","x":-9.5,"y":105.8},{"p":"G","s":"Spd","x":-9,"y":96},{"p":"G","s":"Spd","x":-8.5,"y":104.5},{"p":"G","s":"Spd","x":-8,"y":92.5},{"p":"G","s":"Spd","x":-7.5,"y":90},{"p":"G","s":"Spd","x":-7,"y":72.4},{"p":"G","s":"Spd","x":-6.5,"y":49.2},{"p":"G","s":"Spd","x":-6,"y":22.1},
{"p":"G","s":"VIP","x":-10,"y":99},{"p":"G","s":"VIP","x":-9.5,"y":94.5},{"p":"G","s":"VIP","x":-9,"y":90.8},{"p":"G","s":"VIP","x":-8.5,"y":60.5},{"p":"G","s":"VIP","x":-8,"y":45.3},{"p":"G","s":"VIP","x":-7.5,"y":30.3},{"p":"G","s":"VIP","x":-7,"y":15.5},
{"p":"G","s":"Dap","x":-10,"y":100},{"p":"G","s":"Dap","x":-9.5,"y":90.5},{"p":"G","s":"Dap","x":-9,"y":80.3},{"p":"G","s":"Dap","x":-8.5,"y":55.3},{"p":"G","s":"Dap","x":-8,"y":30.3},{"p":"G","s":"Dap","x":-7.5,"y":11.8},{"p":"G","s":"Dap","x":-7,"y":10.3},{"p":"G","s":"Dap","x":-6.5,"y":8.4},{"p":"G","s":"Dap","x":-6,"y":8.4},
{"p":"H","s":"Dap","x":-10,"y":11},{"p":"H","s":"Dap","x":-9.5,"y":24.6},{"p":"H","s":"Dap","x":-9,"y":43.6},{"p":"H","s":"Dap","x":-8.5,"y":60},{"p":"H","s":"Dap","x":-8,"y":82.5},{"p":"H","s":"Dap","x":-7.5,"y":106},{"p":"H","s":"Dap","x":-7,"y":131.6},{"p":"H","s":"Dap","x":-6.5,"y":143.7},{"p":"H","s":"Dap","x":-6,"y":150},
{"p":"H","s":"VIP","x":-10.9,"y":0},{"p":"H","s":"VIP","x":-10,"y":7.3},{"p":"H","s":"VIP","x":-9.5,"y":7.3},{"p":"H","s":"VIP","x":-9,"y":17.2},{"p":"H","s":"VIP","x":-8.5,"y":29.3},{"p":"H","s":"VIP","x":-8,"y":48.4},{"p":"H","s":"VIP","x":-7.5,"y":67.8},{"p":"H","s":"VIP","x":-7,"y":78.5},{"p":"H","s":"VIP","x":-6.5,"y":97.2},{"p":"H","s":"VIP","x":-6,"y":99.7}
],
"breaks": [
{"p":"A","x":-10.52,"y":-2.5,"x2":-10.52,"y2":2.5},{"p":"A","x":-10.42,"y":-2.5,"x2":-10.42,"y2":2.5},{"p":"A","x":-10.52,"y":89,"x2":-10.52,"y2":97},{"p":"A","x":-10.42,"y":89,"x2":-10.42,"y2":97},
{"p":"B","x":-10.55,"y":-3.8,"x2":-10.55,"y2":3.8},{"p":"B","x":-10.45,"y":-3.8,"x2":-10.45,"y2":3.8},{"p":"B","x":-10.6,"y":33,"x2":-10.52,"y2":41},{"p":"B","x":-10.5,"y":33,"x2":-10.42,"y2":41},{"p":"B","x":-10.6,"y":9,"x2":-10.52,"y2":17},{"p":"B","x":-10.5,"y":9,"x2":-10.42,"y2":17},
{"p":"C","x":-10.52,"y":-3.1,"x2":-10.52,"y2":3.1},{"p":"C","x":-10.42,"y":-3.1,"x2":-10.42,"y2":3.1},{"p":"C","x":-10.52,"y":91,"x2":-10.52,"y2":107},{"p":"C","x":-10.42,"y":91,"x2":-10.42,"y2":107},
{"p":"D","x":-10.55,"y":-3.8,"x2":-10.55,"y2":3.8},{"p":"D","x":-10.45,"y":-3.8,"x2":-10.45,"y2":3.8},{"p":"D","x":-10.6,"y":6,"x2":-10.52,"y2":19},{"p":"D","x":-10.5,"y":6,"x2":-10.42,"y2":19},
{"p":"E","x":-10.52,"y":-2.8,"x2":-10.52,"y2":2.8},{"p":"E","x":-10.42,"y":-2.8,"x2":-10.42,"y2":2.8},{"p":"E","x":-10.54,"y":89.5,"x2":-10.48,"y2":96.5},{"p":"E","x":-10.45,"y":89.5,"x2":-10.39,"y2":96.5},
{"p":"F","x":-10.55,"y":-3.8,"x2":-10.55,"y2":3.8},{"p":"F","x":-10.45,"y":-3.8,"x2":-10.45,"y2":3.8},{"p":"F","x":-10.6,"y":7,"x2":-10.52,"y2":18},{"p":"F","x":-10.5,"y":7,"x2":-10.42,"y2":18},
{"p":"G","x":-10.52,"y":-3.1,"x2":-10.52,"y2":3.1},{"p":"G","x":-10.42,"y":-3.1,"x2":-10.42,"y2":3.1},{"p":"G","x":-10.52,"y":95,"x2":-10.52,"y2":107},{"p":"G","x":-10.42,"y":95,"x2":-10.42,"y2":107},
{"p":"H","x":-10.55,"y":-4.4,"x2":-10.55,"y2":4.4},{"p":"H","x":-10.45,"y":-4.4,"x2":-10.45,"y2":4.4},{"p":"H","x":-10.55,"y":3,"x2":-10.55,"y2":19},{"p":"H","x":-10.45,"y":3,"x2":-10.45,"y2":19}
],
"arrows": [
{"p":"A","x":-8.15,"y":74.5,"x2":-8.0,"y2":78.5,"a":220},{"p":"A","x":-9.17,"y":65.3,"x2":-8.92,"y2":65.3,"a":270},{"p":"A","x":-7.76,"y":48.4,"x2":-8.0,"y2":48.4,"a":90},{"p":"A","x":-9.28,"y":46.5,"x2":-9.45,"y2":42,"a":45},
{"p":"B","x":-5.77,"y":126.5,"x2":-5.77,"y2":133,"a":180},{"p":"B","x":-5.77,"y":97.5,"x2":-5.77,"y2":90,"a":0},
{"p":"C","x":-7.24,"y":80.5,"x2":-7.1,"y2":85.5,"a":222},{"p":"C","x":-8.72,"y":73.1,"x2":-8.47,"y2":73.1,"a":270},{"p":"C","x":-6.77,"y":42,"x2":-7.04,"y2":42,"a":90},{"p":"C","x":-8.35,"y":39,"x2":-8.56,"y2":35,"a":59},
{"p":"D","x":-5.77,"y":133.5,"x2":-5.77,"y2":140.5,"a":180},{"p":"D","x":-5.77,"y":97.5,"x2":-5.77,"y2":90.5,"a":0},
{"p":"E","x":-7.71,"y":82.5,"x2":-7.55,"y2":88,"a":219},{"p":"E","x":-9.38,"y":65.7,"x2":-9.16,"y2":65.7,"a":270},{"p":"E","x":-7.3,"y":41.5,"x2":-7.58,"y2":38.5,"a":69},{"p":"E","x":-9.12,"y":26,"x2":-9.33,"y2":23,"a":63},
{"p":"F","x":-5.79,"y":128,"x2":-5.79,"y2":136,"a":180},{"p":"F","x":-5.79,"y":92.5,"x2":-5.79,"y2":85.5,"a":0},
{"p":"G","x":-7.32,"y":85.5,"x2":-7.13,"y2":90.5,"a":231},{"p":"G","x":-8.7,"y":73.5,"x2":-8.47,"y2":73.5,"a":270},{"p":"G","x":-7.15,"y":57,"x2":-7.39,"y2":53.5,"a":65},{"p":"G","x":-8.24,"y":35.5,"x2":-8.53,"y2":35.5,"a":90},
{"p":"H","x":-5.72,"y":144.5,"x2":-5.72,"y2":156.5,"a":180},{"p":"H","x":-5.75,"y":94.5,"x2":-5.75,"y2":87,"a":0}
],
"labels": [
{"p":"A","x":-7.95,"y":81,"t":"VIP","sub":"Spm"},{"p":"A","x":-8.88,"y":65.3,"t":"VIP","sub":""},{"p":"A","x":-8.72,"y":49.5,"t":"VIP","sub":"Spd"},{"p":"A","x":-10.17,"y":41,"t":"VIP","sub":"Dap"},
{"p":"B","x":-6.24,"y":137,"t":"VIP","sub":"Dap"},{"p":"B","x":-5.95,"y":84,"t":"VIP","sub":""},
{"p":"C","x":-7.06,"y":88.8,"t":"VIP","sub":"Spm"},{"p":"C","x":-8.44,"y":73.1,"t":"VIP","sub":""},{"p":"C","x":-7.76,"y":44.4,"t":"VIP","sub":"Spd"},{"p":"C","x":-9.29,"y":32.7,"t":"VIP","sub":"Dap"},
{"p":"D","x":-6.26,"y":145,"t":"VIP","sub":"Dap"},{"p":"D","x":-5.95,"y":85,"t":"VIP","sub":""},
{"p":"E","x":-7.52,"y":91.4,"t":"VIP","sub":"Spm"},{"p":"E","x":-9.13,"y":65.7,"t":"VIP","sub":""},{"p":"E","x":-8.3,"y":38.9,"t":"VIP","sub":"Spd"},{"p":"E","x":-10.04,"y":22.6,"t":"VIP","sub":"Dap"},
{"p":"F","x":-6.28,"y":140,"t":"VIP","sub":"Dap"},{"p":"F","x":-5.97,"y":79,"t":"VIP","sub":""},
{"p":"G","x":-7.1,"y":94,"t":"VIP","sub":"Spd"},{"p":"G","x":-8.44,"y":74.2,"t":"VIP","sub":""},{"p":"G","x":-8.11,"y":53.2,"t":"VIP","sub":"Spm"},{"p":"G","x":-9.25,"y":36,"t":"VIP","sub":"Dap"},
{"p":"H","x":-6.28,"y":162,"t":"VIP","sub":"Dap"},{"p":"H","x":-5.93,"y":78,"t":"VIP","sub":""}
],
"letters": [
{"p":"A","x":-5.52,"y":87,"t":"A"},{"p":"B","x":-5.2,"y":137.5,"t":"B"},{"p":"C","x":-5.55,"y":106,"t":"C"},{"p":"D","x":-5.25,"y":129,"t":"D"},
{"p":"E","x":-5.58,"y":97,"t":"E"},{"p":"F","x":-5.24,"y":133,"t":"F"},{"p":"G","x":-5.55,"y":112,"t":"G"},{"p":"H","x":-5.25,"y":155,"t":"H"}
]
},
"vconcat": [
{"title": {"text": "Rat VPAC₁", "anchor": "middle", "dx": 18, "dy": 23, "offset": 0},
 "spacing": 45,
 "hconcat": [
  {"width": 232, "height": 160, "title": {"text": "BINDING", "fontSize": 17, "frame": "group", "anchor": "middle", "offset": 0},
   "encoding": {"x": {"field": "x", "type": "quantitative", "scale": {"domain": [-10.95, -5.25], "nice": false, "zero": false}, "axis": {"values": [-10, -9, -8, -7, -6], "labelExpr": "'-' + (-datum.value)", "title": null}},
                "y": {"field": "y", "type": "quantitative", "scale": {"domain": [0, 100], "nice": false, "zero": false}, "axis": {"values": [0, 25, 50, 75, 100], "title": "¹²⁵I-VIP bound, %"}}},
   "layer": [
    {"data": {"name": "curves"}, "transform": [{"filter": "datum.p=='A'"}], "mark": {"type": "line", "interpolate": "monotone", "color": "#111", "strokeWidth": 1}, "encoding": {"detail": {"field": "s"}}},
    {"data": {"name": "breaks"}, "transform": [{"filter": "datum.p=='A'"}], "mark": {"type": "rule", "color": "#111", "strokeWidth": 1}, "encoding": {"x2": {"field": "x2"}, "y2": {"field": "y2"}}},
    {"data": {"name": "points"}, "transform": [{"filter": "datum.p=='A'"}], "mark": {"type": "point", "filled": true, "stroke": "#111", "strokeWidth": 1, "size": 30, "opacity": 1}, "encoding": {"shape": {"field": "s", "scale": {"domain": ["Dap", "VIP", "Spm", "Spd"], "range": ["circle", "circle", "square", "square"]}, "legend": null}, "fill": {"field": "s", "scale": {"domain": ["Dap", "VIP", "Spm", "Spd"], "range": ["#111", "white", "#111", "white"]}, "legend": null}}},
    {"data": {"name": "arrows"}, "transform": [{"filter": "datum.p=='A'"}], "mark": {"type": "rule", "color": "#111", "strokeWidth": 0.8}, "encoding": {"x2": {"field": "x2"}, "y2": {"field": "y2"}}},
    {"data": {"name": "arrows"}, "transform": [{"filter": "datum.p=='A'"}], "mark": {"type": "point", "shape": "triangle-up", "filled": true, "color": "#111", "size": 16, "opacity": 1}, "encoding": {"angle": {"field": "a", "type": "quantitative", "scale": null}}},
    {"data": {"name": "labels"}, "transform": [{"filter": "datum.p=='A'"}], "mark": {"type": "text", "align": "left", "baseline": "middle", "fontSize": 9, "color": "#111"}, "encoding": {"text": {"field": "t"}}},
    {"data": {"name": "labels"}, "transform": [{"filter": "datum.p=='A' && datum.sub!=''"}], "mark": {"type": "text", "align": "left", "baseline": "middle", "fontSize": 7.5, "dx": 14.5, "dy": 3, "color": "#111"}, "encoding": {"text": {"field": "sub"}}},
    {"data": {"name": "letters"}, "transform": [{"filter": "datum.p=='A'"}], "mark": {"type": "text", "align": "center", "baseline": "alphabetic", "fontSize": 19, "fontWeight": "bold", "color": "#000"}, "encoding": {"text": {"field": "t"}}}
   ]},
  {"width": 234, "height": 160, "title": {"text": "cAMPase", "fontSize": 17, "frame": "group", "anchor": "middle", "dx": 9, "offset": 4},
   "encoding": {"x": {"field": "x", "type": "quantitative", "scale": {"domain": [-10.9, -5.0], "nice": false, "zero": false}, "axis": {"values": [-10, -9, -8, -7, -6], "labelExpr": "'-' + (-datum.value)", "title": null}},
                "y": {"field": "y", "type": "quantitative", "scale": {"domain": [0, 152], "nice": false, "zero": false}, "axis": {"values": [0, 25, 50, 75, 100, 125], "labelExpr": "datum.value == 50 || datum.value == 100 ? '' : datum.label", "title": "cAMP increase, %"}}},
   "layer": [
    {"data": {"name": "curves"}, "transform": [{"filter": "datum.p=='B'"}], "mark": {"type": "line", "interpolate": "monotone", "color": "#111", "strokeWidth": 1}, "encoding": {"detail": {"field": "s"}}},
    {"data": {"name": "breaks"}, "transform": [{"filter": "datum.p=='B'"}], "mark": {"type": "rule", "color": "#111", "strokeWidth": 1}, "encoding": {"x2": {"field": "x2"}, "y2": {"field": "y2"}}},
    {"data": {"name": "points"}, "transform": [{"filter": "datum.p=='B'"}], "mark": {"type": "point", "filled": true, "stroke": "#111", "strokeWidth": 1, "size": 30, "opacity": 1}, "encoding": {"shape": {"field": "s", "scale": {"domain": ["Dap", "VIP", "Spm", "Spd"], "range": ["circle", "circle", "square", "square"]}, "legend": null}, "fill": {"field": "s", "scale": {"domain": ["Dap", "VIP", "Spm", "Spd"], "range": ["#111", "white", "#111", "white"]}, "legend": null}}},
    {"data": {"name": "arrows"}, "transform": [{"filter": "datum.p=='B'"}], "mark": {"type": "rule", "color": "#111", "strokeWidth": 0.8}, "encoding": {"x2": {"field": "x2"}, "y2": {"field": "y2"}}},
    {"data": {"name": "arrows"}, "transform": [{"filter": "datum.p=='B'"}], "mark": {"type": "point", "shape": "triangle-up", "filled": true, "color": "#111", "size": 16, "opacity": 1}, "encoding": {"angle": {"field": "a", "type": "quantitative", "scale": null}}},
    {"data": {"name": "labels"}, "transform": [{"filter": "datum.p=='B'"}], "mark": {"type": "text", "align": "left", "baseline": "middle", "fontSize": 9, "color": "#111"}, "encoding": {"text": {"field": "t"}}},
    {"data": {"name": "labels"}, "transform": [{"filter": "datum.p=='B' && datum.sub!=''"}], "mark": {"type": "text", "align": "left", "baseline": "middle", "fontSize": 7.5, "dx": 14.5, "dy": 3, "color": "#111"}, "encoding": {"text": {"field": "sub"}}},
    {"data": {"name": "letters"}, "transform": [{"filter": "datum.p=='B'"}], "mark": {"type": "text", "align": "center", "baseline": "alphabetic", "fontSize": 19, "fontWeight": "bold", "color": "#000"}, "encoding": {"text": {"field": "t"}}}
   ]}
 ]},
{"title": {"text": "Rat VPAC₂", "anchor": "middle", "dx": 18, "offset": 2},
 "spacing": 45,
 "hconcat": [
  {"width": 232, "height": 160,
   "encoding": {"x": {"field": "x", "type": "quantitative", "scale": {"domain": [-10.95, -5.25], "nice": false, "zero": false}, "axis": {"values": [-10, -9, -8, -7, -6], "labelExpr": "'-' + (-datum.value)", "title": null}},
                "y": {"field": "y", "type": "quantitative", "scale": {"domain": [0, 125], "nice": false, "zero": false}, "axis": {"values": [0, 25, 50, 75, 100], "title": "¹²⁵I Ro25-1553 bound, %"}}},
   "layer": [
    {"data": {"name": "curves"}, "transform": [{"filter": "datum.p=='C'"}], "mark": {"type": "line", "interpolate": "monotone", "color": "#111", "strokeWidth": 1}, "encoding": {"detail": {"field": "s"}}},
    {"data": {"name": "breaks"}, "transform": [{"filter": "datum.p=='C'"}], "mark": {"type": "rule", "color": "#111", "strokeWidth": 1}, "encoding": {"x2": {"field": "x2"}, "y2": {"field": "y2"}}},
    {"data": {"name": "points"}, "transform": [{"filter": "datum.p=='C'"}], "mark": {"type": "point", "filled": true, "stroke": "#111", "strokeWidth": 1, "size": 30, "opacity": 1}, "encoding": {"shape": {"field": "s", "scale": {"domain": ["Dap", "VIP", "Spm", "Spd"], "range": ["circle", "circle", "square", "square"]}, "legend": null}, "fill": {"field": "s", "scale": {"domain": ["Dap", "VIP", "Spm", "Spd"], "range": ["#111", "white", "#111", "white"]}, "legend": null}}},
    {"data": {"name": "arrows"}, "transform": [{"filter": "datum.p=='C'"}], "mark": {"type": "rule", "color": "#111", "strokeWidth": 0.8}, "encoding": {"x2": {"field": "x2"}, "y2": {"field": "y2"}}},
    {"data": {"name": "arrows"}, "transform": [{"filter": "datum.p=='C'"}], "mark": {"type": "point", "shape": "triangle-up", "filled": true, "color": "#111", "size": 16, "opacity": 1}, "encoding": {"angle": {"field": "a", "type": "quantitative", "scale": null}}},
    {"data": {"name": "labels"}, "transform": [{"filter": "datum.p=='C'"}], "mark": {"type": "text", "align": "left", "baseline": "middle", "fontSize": 9, "color": "#111"}, "encoding": {"text": {"field": "t"}}},
    {"data": {"name": "labels"}, "transform": [{"filter": "datum.p=='C' && datum.sub!=''"}], "mark": {"type": "text", "align": "left", "baseline": "middle", "fontSize": 7.5, "dx": 14.5, "dy": 3, "color": "#111"}, "encoding": {"text": {"field": "sub"}}},
    {"data": {"name": "letters"}, "transform": [{"filter": "datum.p=='C'"}], "mark": {"type": "text", "align": "center", "baseline": "alphabetic", "fontSize": 19, "fontWeight": "bold", "color": "#000"}, "encoding": {"text": {"field": "t"}}}
   ]},
  {"width": 234, "height": 160,
   "encoding": {"x": {"field": "x", "type": "quantitative", "scale": {"domain": [-10.9, -5.0], "nice": false, "zero": false}, "axis": {"values": [-10, -9, -8, -7, -6], "labelExpr": "'-' + (-datum.value)", "title": null}},
                "y": {"field": "y", "type": "quantitative", "scale": {"domain": [0, 152], "nice": false, "zero": false}, "axis": {"values": [0, 25, 50, 75, 100, 125], "labelExpr": "datum.value == 50 || datum.value == 100 ? '' : datum.label", "title": "cAMP increase, %"}}},
   "layer": [
    {"data": {"name": "curves"}, "transform": [{"filter": "datum.p=='D'"}], "mark": {"type": "line", "interpolate": "monotone", "color": "#111", "strokeWidth": 1}, "encoding": {"detail": {"field": "s"}}},
    {"data": {"name": "breaks"}, "transform": [{"filter": "datum.p=='D'"}], "mark": {"type": "rule", "color": "#111", "strokeWidth": 1}, "encoding": {"x2": {"field": "x2"}, "y2": {"field": "y2"}}},
    {"data": {"name": "points"}, "transform": [{"filter": "datum.p=='D'"}], "mark": {"type": "point", "filled": true, "stroke": "#111", "strokeWidth": 1, "size": 30, "opacity": 1}, "encoding": {"shape": {"field": "s", "scale": {"domain": ["Dap", "VIP", "Spm", "Spd"], "range": ["circle", "circle", "square", "square"]}, "legend": null}, "fill": {"field": "s", "scale": {"domain": ["Dap", "VIP", "Spm", "Spd"], "range": ["#111", "white", "#111", "white"]}, "legend": null}}},
    {"data": {"name": "arrows"}, "transform": [{"filter": "datum.p=='D'"}], "mark": {"type": "rule", "color": "#111", "strokeWidth": 0.8}, "encoding": {"x2": {"field": "x2"}, "y2": {"field": "y2"}}},
    {"data": {"name": "arrows"}, "transform": [{"filter": "datum.p=='D'"}], "mark": {"type": "point", "shape": "triangle-up", "filled": true, "color": "#111", "size": 16, "opacity": 1}, "encoding": {"angle": {"field": "a", "type": "quantitative", "scale": null}}},
    {"data": {"name": "labels"}, "transform": [{"filter": "datum.p=='D'"}], "mark": {"type": "text", "align": "left", "baseline": "middle", "fontSize": 9, "color": "#111"}, "encoding": {"text": {"field": "t"}}},
    {"data": {"name": "labels"}, "transform": [{"filter": "datum.p=='D' && datum.sub!=''"}], "mark": {"type": "text", "align": "left", "baseline": "middle", "fontSize": 7.5, "dx": 14.5, "dy": 3, "color": "#111"}, "encoding": {"text": {"field": "sub"}}},
    {"data": {"name": "letters"}, "transform": [{"filter": "datum.p=='D'"}], "mark": {"type": "text", "align": "center", "baseline": "alphabetic", "fontSize": 19, "fontWeight": "bold", "color": "#000"}, "encoding": {"text": {"field": "t"}}}
   ]}
 ]},
{"title": {"text": "Human VPAC₁", "anchor": "middle", "dx": 14, "offset": 2},
 "spacing": 45,
 "hconcat": [
  {"width": 232, "height": 160,
   "encoding": {"x": {"field": "x", "type": "quantitative", "scale": {"domain": [-10.95, -5.25], "nice": false, "zero": false}, "axis": {"values": [-10, -9, -8, -7, -6], "labelExpr": "'-' + (-datum.value)", "title": null}},
                "y": {"field": "y", "type": "quantitative", "scale": {"domain": [0, 110], "nice": false, "zero": false}, "axis": {"values": [0, 25, 50, 75, 100], "title": "¹²⁵I-VIP bound, %"}}},
   "layer": [
    {"data": {"name": "curves"}, "transform": [{"filter": "datum.p=='E'"}], "mark": {"type": "line", "interpolate": "monotone", "color": "#111", "strokeWidth": 1}, "encoding": {"detail": {"field": "s"}}},
    {"data": {"name": "breaks"}, "transform": [{"filter": "datum.p=='E'"}], "mark": {"type": "rule", "color": "#111", "strokeWidth": 1}, "encoding": {"x2": {"field": "x2"}, "y2": {"field": "y2"}}},
    {"data": {"name": "points"}, "transform": [{"filter": "datum.p=='E'"}], "mark": {"type": "point", "filled": true, "stroke": "#111", "strokeWidth": 1, "size": 30, "opacity": 1}, "encoding": {"shape": {"field": "s", "scale": {"domain": ["Dap", "VIP", "Spm", "Spd"], "range": ["circle", "circle", "square", "square"]}, "legend": null}, "fill": {"field": "s", "scale": {"domain": ["Dap", "VIP", "Spm", "Spd"], "range": ["#111", "white", "#111", "white"]}, "legend": null}}},
    {"data": {"name": "arrows"}, "transform": [{"filter": "datum.p=='E'"}], "mark": {"type": "rule", "color": "#111", "strokeWidth": 0.8}, "encoding": {"x2": {"field": "x2"}, "y2": {"field": "y2"}}},
    {"data": {"name": "arrows"}, "transform": [{"filter": "datum.p=='E'"}], "mark": {"type": "point", "shape": "triangle-up", "filled": true, "color": "#111", "size": 16, "opacity": 1}, "encoding": {"angle": {"field": "a", "type": "quantitative", "scale": null}}},
    {"data": {"name": "labels"}, "transform": [{"filter": "datum.p=='E'"}], "mark": {"type": "text", "align": "left", "baseline": "middle", "fontSize": 9, "color": "#111"}, "encoding": {"text": {"field": "t"}}},
    {"data": {"name": "labels"}, "transform": [{"filter": "datum.p=='E' && datum.sub!=''"}], "mark": {"type": "text", "align": "left", "baseline": "middle", "fontSize": 7.5, "dx": 14.5, "dy": 3, "color": "#111"}, "encoding": {"text": {"field": "sub"}}},
    {"data": {"name": "letters"}, "transform": [{"filter": "datum.p=='E'"}], "mark": {"type": "text", "align": "center", "baseline": "alphabetic", "fontSize": 19, "fontWeight": "bold", "color": "#000"}, "encoding": {"text": {"field": "t"}}}
   ]},
  {"width": 234, "height": 160,
   "encoding": {"x": {"field": "x", "type": "quantitative", "scale": {"domain": [-10.9, -5.0], "nice": false, "zero": false}, "axis": {"values": [-10, -9, -8, -7, -6], "labelExpr": "'-' + (-datum.value)", "title": null}},
                "y": {"field": "y", "type": "quantitative", "scale": {"domain": [0, 152], "nice": false, "zero": false}, "axis": {"values": [0, 25, 50, 75, 100, 125], "labelExpr": "datum.value == 50 || datum.value == 100 ? '' : datum.label", "title": "cAMP increase, %"}}},
   "layer": [
    {"data": {"name": "curves"}, "transform": [{"filter": "datum.p=='F'"}], "mark": {"type": "line", "interpolate": "monotone", "color": "#111", "strokeWidth": 1}, "encoding": {"detail": {"field": "s"}}},
    {"data": {"name": "breaks"}, "transform": [{"filter": "datum.p=='F'"}], "mark": {"type": "rule", "color": "#111", "strokeWidth": 1}, "encoding": {"x2": {"field": "x2"}, "y2": {"field": "y2"}}},
    {"data": {"name": "points"}, "transform": [{"filter": "datum.p=='F'"}], "mark": {"type": "point", "filled": true, "stroke": "#111", "strokeWidth": 1, "size": 30, "opacity": 1}, "encoding": {"shape": {"field": "s", "scale": {"domain": ["Dap", "VIP", "Spm", "Spd"], "range": ["circle", "circle", "square", "square"]}, "legend": null}, "fill": {"field": "s", "scale": {"domain": ["Dap", "VIP", "Spm", "Spd"], "range": ["#111", "white", "#111", "white"]}, "legend": null}}},
    {"data": {"name": "arrows"}, "transform": [{"filter": "datum.p=='F'"}], "mark": {"type": "rule", "color": "#111", "strokeWidth": 0.8}, "encoding": {"x2": {"field": "x2"}, "y2": {"field": "y2"}}},
    {"data": {"name": "arrows"}, "transform": [{"filter": "datum.p=='F'"}], "mark": {"type": "point", "shape": "triangle-up", "filled": true, "color": "#111", "size": 16, "opacity": 1}, "encoding": {"angle": {"field": "a", "type": "quantitative", "scale": null}}},
    {"data": {"name": "labels"}, "transform": [{"filter": "datum.p=='F'"}], "mark": {"type": "text", "align": "left", "baseline": "middle", "fontSize": 9, "color": "#111"}, "encoding": {"text": {"field": "t"}}},
    {"data": {"name": "labels"}, "transform": [{"filter": "datum.p=='F' && datum.sub!=''"}], "mark": {"type": "text", "align": "left", "baseline": "middle", "fontSize": 7.5, "dx": 14.5, "dy": 3, "color": "#111"}, "encoding": {"text": {"field": "sub"}}},
    {"data": {"name": "letters"}, "transform": [{"filter": "datum.p=='F'"}], "mark": {"type": "text", "align": "center", "baseline": "alphabetic", "fontSize": 19, "fontWeight": "bold", "color": "#000"}, "encoding": {"text": {"field": "t"}}}
   ]}
 ]},
{"title": {"text": "Human VPAC₂", "anchor": "middle", "dx": 14, "offset": 2},
 "spacing": 45,
 "hconcat": [
  {"width": 232, "height": 160,
   "encoding": {"x": {"field": "x", "type": "quantitative", "scale": {"domain": [-10.95, -5.25], "nice": false, "zero": false}, "axis": {"values": [-10, -9, -8, -7, -6], "labelExpr": "'-' + (-datum.value)", "title": "[Peptide]  (log M)", "titleFontSize": 10, "titlePadding": 6}},
                "y": {"field": "y", "type": "quantitative", "scale": {"domain": [0, 125], "nice": false, "zero": false}, "axis": {"values": [0, 25, 50, 75, 100], "title": "¹²⁵I Ro25-1553 bound, %"}}},
   "layer": [
    {"data": {"name": "curves"}, "transform": [{"filter": "datum.p=='G'"}], "mark": {"type": "line", "interpolate": "monotone", "color": "#111", "strokeWidth": 1}, "encoding": {"detail": {"field": "s"}}},
    {"data": {"name": "breaks"}, "transform": [{"filter": "datum.p=='G'"}], "mark": {"type": "rule", "color": "#111", "strokeWidth": 1}, "encoding": {"x2": {"field": "x2"}, "y2": {"field": "y2"}}},
    {"data": {"name": "points"}, "transform": [{"filter": "datum.p=='G'"}], "mark": {"type": "point", "filled": true, "stroke": "#111", "strokeWidth": 1, "size": 30, "opacity": 1}, "encoding": {"shape": {"field": "s", "scale": {"domain": ["Dap", "VIP", "Spm", "Spd"], "range": ["circle", "circle", "square", "square"]}, "legend": null}, "fill": {"field": "s", "scale": {"domain": ["Dap", "VIP", "Spm", "Spd"], "range": ["#111", "white", "#111", "white"]}, "legend": null}}},
    {"data": {"name": "arrows"}, "transform": [{"filter": "datum.p=='G'"}], "mark": {"type": "rule", "color": "#111", "strokeWidth": 0.8}, "encoding": {"x2": {"field": "x2"}, "y2": {"field": "y2"}}},
    {"data": {"name": "arrows"}, "transform": [{"filter": "datum.p=='G'"}], "mark": {"type": "point", "shape": "triangle-up", "filled": true, "color": "#111", "size": 16, "opacity": 1}, "encoding": {"angle": {"field": "a", "type": "quantitative", "scale": null}}},
    {"data": {"name": "labels"}, "transform": [{"filter": "datum.p=='G'"}], "mark": {"type": "text", "align": "left", "baseline": "middle", "fontSize": 9, "color": "#111"}, "encoding": {"text": {"field": "t"}}},
    {"data": {"name": "labels"}, "transform": [{"filter": "datum.p=='G' && datum.sub!=''"}], "mark": {"type": "text", "align": "left", "baseline": "middle", "fontSize": 7.5, "dx": 14.5, "dy": 3, "color": "#111"}, "encoding": {"text": {"field": "sub"}}},
    {"data": {"name": "letters"}, "transform": [{"filter": "datum.p=='G'"}], "mark": {"type": "text", "align": "center", "baseline": "alphabetic", "fontSize": 19, "fontWeight": "bold", "color": "#000"}, "encoding": {"text": {"field": "t"}}}
   ]},
  {"width": 234, "height": 160,
   "encoding": {"x": {"field": "x", "type": "quantitative", "scale": {"domain": [-10.9, -5.0], "nice": false, "zero": false}, "axis": {"values": [-10, -9, -8, -7, -6], "labelExpr": "'-' + (-datum.value)", "title": "[Peptide]  (log M)", "titleFontSize": 10, "titlePadding": 6}},
                "y": {"field": "y", "type": "quantitative", "scale": {"domain": [0, 175], "nice": false, "zero": false}, "axis": {"values": [0, 50, 100, 150], "title": "cAMP increase, %"}}},
   "layer": [
    {"data": {"name": "curves"}, "transform": [{"filter": "datum.p=='H'"}], "mark": {"type": "line", "interpolate": "monotone", "color": "#111", "strokeWidth": 1}, "encoding": {"detail": {"field": "s"}}},
    {"data": {"name": "breaks"}, "transform": [{"filter": "datum.p=='H'"}], "mark": {"type": "rule", "color": "#111", "strokeWidth": 1}, "encoding": {"x2": {"field": "x2"}, "y2": {"field": "y2"}}},
    {"data": {"name": "points"}, "transform": [{"filter": "datum.p=='H'"}], "mark": {"type": "point", "filled": true, "stroke": "#111", "strokeWidth": 1, "size": 30, "opacity": 1}, "encoding": {"shape": {"field": "s", "scale": {"domain": ["Dap", "VIP", "Spm", "Spd"], "range": ["circle", "circle", "square", "square"]}, "legend": null}, "fill": {"field": "s", "scale": {"domain": ["Dap", "VIP", "Spm", "Spd"], "range": ["#111", "white", "#111", "white"]}, "legend": null}}},
    {"data": {"name": "arrows"}, "transform": [{"filter": "datum.p=='H'"}], "mark": {"type": "rule", "color": "#111", "strokeWidth": 0.8}, "encoding": {"x2": {"field": "x2"}, "y2": {"field": "y2"}}},
    {"data": {"name": "arrows"}, "transform": [{"filter": "datum.p=='H'"}], "mark": {"type": "point", "shape": "triangle-up", "filled": true, "color": "#111", "size": 16, "opacity": 1}, "encoding": {"angle": {"field": "a", "type": "quantitative", "scale": null}}},
    {"data": {"name": "labels"}, "transform": [{"filter": "datum.p=='H'"}], "mark": {"type": "text", "align": "left", "baseline": "middle", "fontSize": 9, "color": "#111"}, "encoding": {"text": {"field": "t"}}},
    {"data": {"name": "labels"}, "transform": [{"filter": "datum.p=='H' && datum.sub!=''"}], "mark": {"type": "text", "align": "left", "baseline": "middle", "fontSize": 7.5, "dx": 14.5, "dy": 3, "color": "#111"}, "encoding": {"text": {"field": "sub"}}},
    {"data": {"name": "letters"}, "transform": [{"filter": "datum.p=='H'"}], "mark": {"type": "text", "align": "center", "baseline": "alphabetic", "fontSize": 19, "fontWeight": "bold", "color": "#000"}, "encoding": {"text": {"field": "t"}}}
   ]}
 ]}
],
"config": {
 "font": "Liberation Sans",
 "view": {"stroke": "#333", "strokeWidth": 1},
 "title": {"font": "Liberation Sans", "fontSize": 13, "fontWeight": "bold", "color": "#000"},
 "text": {"font": "Liberation Sans"},
 "axis": {"labelFont": "Liberation Sans", "labelFontSize": 9.5, "labelColor": "#222", "titleFont": "Liberation Sans", "titleFontSize": 9, "titleFontWeight": "normal", "titleColor": "#222", "tickColor": "#333", "tickSize": 3, "domain": false, "grid": false, "labelPadding": 2}
}
}
